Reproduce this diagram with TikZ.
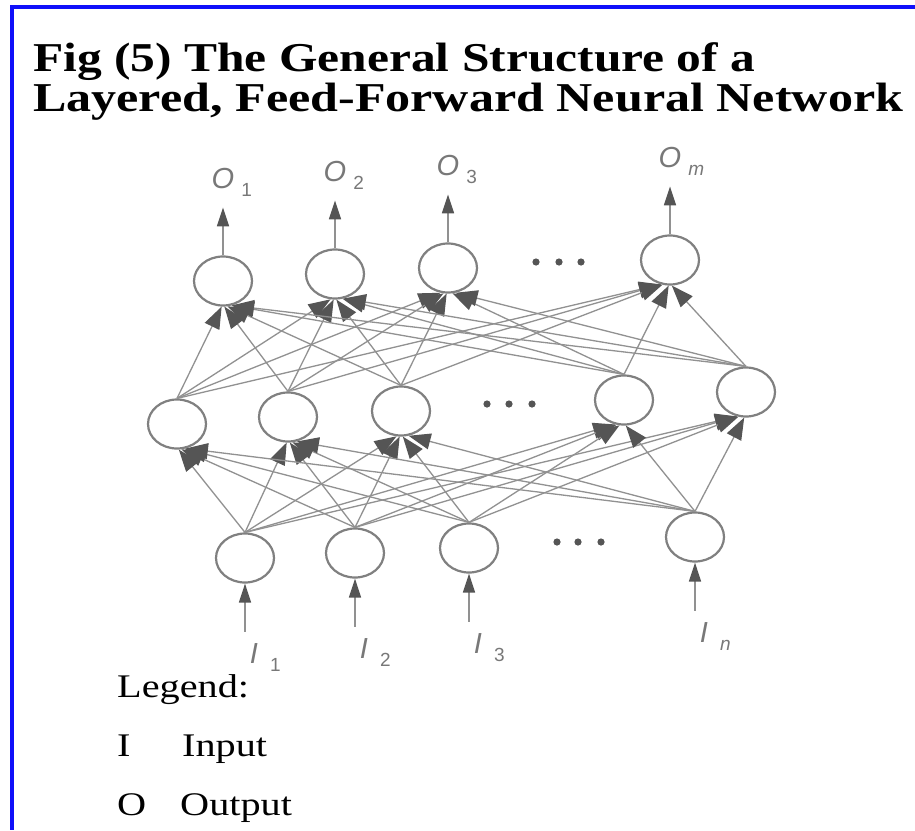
\documentclass[tikz,border=0pt]{standalone}
\usepackage{fontspec}
\usepackage{graphicx}
\setmainfont{Liberation Serif}
\newfontfamily\labelfont{Liberation Sans}
\usetikzlibrary{arrows.meta,shapes.geometric}

\definecolor{frameblue}{RGB}{16,16,250}
\definecolor{ringgray}{RGB}{128,128,128}
\definecolor{wiregray}{RGB}{145,145,145}
\definecolor{headgray}{RGB}{85,85,85}
\definecolor{textgray}{RGB}{120,120,120}

\begin{document}
\begin{tikzpicture}[x=1pt,y=-1pt,
  neuron/.style={ellipse, draw=ringgray, line width=2.2pt,
    minimum width=58pt, minimum height=49pt, inner sep=0pt},
  link/.style={draw=wiregray, line width=1.3pt,
    -{Triangle[length=22pt,width=16pt,color=headgray]}},
  iolink/.style={draw=wiregray, line width=1.6pt,
    -{Triangle[length=19pt,width=12pt,color=headgray]}},
  titletext/.style={anchor=base west, inner sep=0pt,
    font=\fontsize{41}{41}\selectfont\bfseries},
  legendtext/.style={anchor=base west, inner sep=0pt,
    font=\fontsize{33}{33}\selectfont},
  olabel/.style={text=textgray, inner sep=0pt,
    font=\labelfont\itshape\fontsize{29}{29}\selectfont},
  dot/.style={fill=headgray}
]
\useasboundingbox (0,0) rectangle (915,830);
\fill[white] (0,0) rectangle (915,830);
% frame
\fill[frameblue] (10,5) rectangle (14,830);
\fill[frameblue] (10,5) rectangle (915,9);

% title
\node[titletext] (title1) at (33,71)
  {\resizebox{722pt}{\height}{Fig (5) The General Structure of a}};
\node[titletext] (title2) at (33,111)
  {\resizebox{870pt}{\height}{Layered, Feed-Forward Neural Network}};

% output layer
\node[neuron] (o1) at (223,281) {};
\node[neuron] (o2) at (335,274) {};
\node[neuron] (o3) at (448,268) {};
\node[neuron] (o4) at (670,260) {};
% hidden layer
\node[neuron] (h1) at (177,424) {};
\node[neuron] (h2) at (288,417) {};
\node[neuron] (h3) at (401,411) {};
\node[neuron] (h4) at (624,400) {};
\node[neuron] (h5) at (746,392) {};
% input layer
\node[neuron] (i1) at (245,558) {};
\node[neuron] (i2) at (355,553) {};
\node[neuron] (i3) at (469,548) {};
\node[neuron] (i4) at (695,537) {};

% ellipsis dots
\foreach \x/\y in {536/262,559/262,581/262,
                   487/404,509/404,532/404,
                   557/542,578/542,601/542}
  \fill[dot] (\x,\y) circle (3.6pt);

% input -> hidden
\foreach \s/\sx in {i1/245,i2/355,i3/469,i4/695}
  \foreach \t/\tx in {h1/177,h2/288,h3/401,h4/624,h5/746}{
    \pgfmathtruncatemacro\ang{270+max(-20,min(20,0.06*(\sx-\tx)))}
    \draw[link] (\s.north) -- (\t.\ang);
  }
% hidden -> output
\foreach \s/\sx in {h1/177,h2/288,h3/401,h4/624,h5/746}
  \foreach \t/\tx in {o1/223,o2/335,o3/448,o4/670}{
    \pgfmathtruncatemacro\ang{270+max(-20,min(20,0.06*(\sx-\tx)))}
    \draw[link] (\s.north) -- (\t.\ang);
  }

% output arrows and labels
\foreach \n/\sub in {1/\upshape 1,2/\upshape 2,3/\upshape 3,4/m}{
  \coordinate (otip\n) at ([yshift=48pt]o\n.north);
  \draw[iolink] (o\n.north) -- (otip\n);
  \node[olabel] (olab\n) at ([yshift=25pt]otip\n)
    {O\rlap{\hspace{7pt}\raisebox{-8pt}{\fontsize{19}{19}\selectfont\sub}}};
}
% input arrows and labels
\foreach \n/\sub in {1/\upshape 1,2/\upshape 2,3/\upshape 3,4/n}{
  \coordinate (itail\n) at ([yshift=-48pt]i\n.south);
  \draw[iolink] (itail\n) -- (i\n.south);
  \node[olabel] (ilab\n) at ([xshift=9pt,yshift=-26pt]itail\n)
    {I\rlap{\hspace{12pt}\raisebox{-8pt}{\fontsize{19}{19}\selectfont\sub}}};
}

% legend
\node[legendtext] (leg) at (117,697) {\scalebox{1.22}[1]{Legend:}};
\node[legendtext] (legI) at (117,756) {\scalebox{1.22}[1]{I}};
\node[legendtext] (legIn) at (182,756) {\scalebox{1.22}[1]{Input}};
\node[legendtext] (legO) at (117,815) {\scalebox{1.22}[1]{O}};
\node[legendtext] (legOut) at (180,815) {\scalebox{1.22}[1]{Output}};
\end{tikzpicture}
\end{document}
